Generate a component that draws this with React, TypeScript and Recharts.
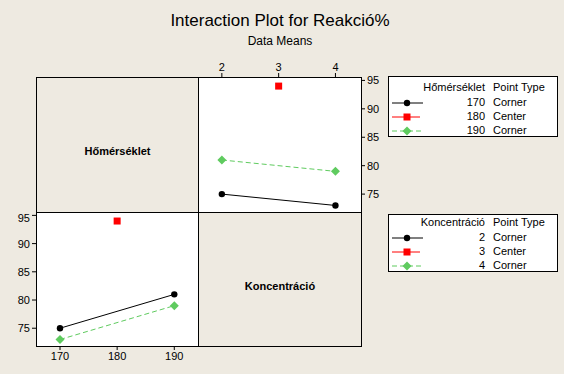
import React from "react";
import { Line, LineChart, XAxis, YAxis } from "recharts";

// szintek
const homersekletLevels = [170, 180, 190];
const koncentracioLevels = [2, 3, 4];
const pointTypes = ["Corner", "Center", "Corner"];

// Reakció% átlagok — felső panel: x = Koncentráció, vonalak = Hőmérséklet
const konX = [2, 4];
const konXCenter = [3];
const mean170 = [75, 73];
const mean180 = [94];
const mean190 = [81, 79];

// alsó panel: x = Hőmérséklet, vonalak = Koncentráció
const homX = [170, 190];
const homXCenter = [180];
const mean2 = [75, 81];
const mean3 = [94];
const mean4 = [73, 79];

const yTicks = [75, 80, 85, 90, 95];
const yDomain: [number, number] = [71.85, 95.6];

const BG = "#EEEAE1";
const GREEN = "#5FCB5F";
const FONT = "'Liberation Sans', Arial, sans-serif";

const toRows = (xs: number[], ys: number[]) => xs.map((x, i) => ({ x, y: ys[i] }));

const circleDot = (p: any) => (
  <circle key={p.key ?? `c${p.index}`} cx={p.cx} cy={p.cy} r={3.2} fill="#000" />
);
const squareDot = (p: any) => (
  <rect key={p.key ?? `s${p.index}`} x={p.cx - 3.5} y={p.cy - 3.5} width={7} height={7} fill="#ff0000" />
);
const diamondDot = (p: any) => (
  <path
    key={p.key ?? `d${p.index}`}
    d={`M${p.cx},${p.cy - 4.5}L${p.cx + 4.5},${p.cy}L${p.cx},${p.cy + 4.5}L${p.cx - 4.5},${p.cy}Z`}
    fill={GREEN}
  />
);

const tickStyle = { fontSize: 11, fill: "#000", fontFamily: FONT };

function cell(left: number, top: number, w: number, h: number, bg: string, extra?: React.CSSProperties) {
  return {
    position: "absolute" as const,
    left,
    top,
    width: w,
    height: h,
    background: bg,
    border: "1px solid #000",
    boxSizing: "border-box" as const,
    ...extra,
  };
}

function LegendSample({ kind }: { kind: number }) {
  return (
    <svg width={34} height={10} style={{ display: "block" }}>
      {kind === 0 && (
        <>
          <line x1={0} y1={5} x2={31} y2={5} stroke="#000" strokeWidth={1} />
          <circle cx={15} cy={5} r={3.2} fill="#000" />
        </>
      )}
      {kind === 1 && (
        <>
          <line x1={0} y1={5} x2={28} y2={5} stroke="#ff0000" strokeWidth={1} />
          <rect x={11.5} y={1.5} width={7} height={7} fill="#ff0000" />
        </>
      )}
      {kind === 2 && (
        <>
          <line x1={0} y1={5} x2={31} y2={5} stroke={GREEN} strokeWidth={1} strokeDasharray="5 3" />
          <path d="M15,0.5L19.5,5L15,9.5L10.5,5Z" fill={GREEN} />
        </>
      )}
    </svg>
  );
}

function LegendBox({
  top,
  height,
  headerY,
  title,
  levels,
}: {
  top: number;
  height: number;
  headerY: number;
  title: string;
  levels: number[];
}) {
  // headerY: a fejléc szövegének közepe a doboz tetejétől
  const ht = headerY - 7;
  return (
    <div style={cell(388, top, 170, height, "#fff", { fontFamily: FONT, fontSize: 11 })}>
      <div style={{ position: "absolute", right: 72, top: ht, whiteSpace: "nowrap" }}>{title}</div>
      <div style={{ position: "absolute", left: 104, top: ht }}>Point Type</div>
      {levels.map((lv, i) => (
        <React.Fragment key={lv}>
          <div style={{ position: "absolute", left: 3, top: ht + 15 + i * 14 + 2 }}>
            <LegendSample kind={i} />
          </div>
          <div style={{ position: "absolute", right: 72, top: ht + 15 + i * 14 }}>{lv}</div>
          <div style={{ position: "absolute", left: 104, top: ht + 15 + i * 14 }}>{pointTypes[i]}</div>
        </React.Fragment>
      ))}
    </div>
  );
}

const labelStyle: React.CSSProperties = {
  position: "absolute",
  inset: 0,
  paddingTop: 12,
  boxSizing: "border-box",
  display: "flex",
  alignItems: "center",
  justifyContent: "center",
  fontWeight: "bold",
  fontSize: 11,
};

export default function App() {
  return (
    <div
      style={{
        position: "absolute",
        left: 0,
        top: 0,
        width: 564,
        height: 374,
        background: BG,
        fontFamily: FONT,
        overflow: "hidden",
      }}
    >
      <div style={{ position: "absolute", left: 0, width: 564, top: 11, textAlign: "center", fontSize: 17 }}>
        <span style={{ position: "relative", left: -2 }}>Interaction Plot for Reakció%</span>
      </div>
      <div style={{ position: "absolute", left: 0, width: 564, top: 34, textAlign: "center", fontSize: 12 }}>
        <span style={{ position: "relative", left: -2 }}>Data Means</span>
      </div>

      {/* mátrix cellák */}
      <div style={cell(36, 77, 163, 136, BG)}>
        <div style={labelStyle}>Hőmérséklet</div>
      </div>
      <div style={cell(198, 77, 164, 136, "#fff")} />
      <div style={cell(36, 212, 163, 135, "#fff")} />
      <div style={cell(198, 212, 164, 135, BG)}>
        <div style={labelStyle}>Koncentráció</div>
      </div>

      {/* felső jobb panel */}
      <div style={{ position: "absolute", left: 198, top: 57 }}>
        <LineChart width={163 + 30} height={135 + 20} margin={{ top: 0, right: 0, bottom: 0, left: 0 }}>
          <XAxis
            xAxisId="k"
            type="number"
            dataKey="x"
            orientation="top"
            height={20}
            domain={[1.58, 4.45]}
            ticks={koncentracioLevels}
            axisLine={false}
            tickSize={4}
            tickLine={{ stroke: "#000" }}
            tick={tickStyle}
            allowDataOverflow
          />
          <YAxis
            yAxisId="k"
            type="number"
            orientation="right"
            width={30}
            domain={yDomain}
            ticks={yTicks}
            axisLine={false}
            tickSize={4}
            tickLine={{ stroke: "#000" }}
            tick={tickStyle}
            allowDataOverflow
          />
          <Line xAxisId="k" yAxisId="k" data={toRows(konX, mean170)} dataKey="y" stroke="#000" strokeWidth={1} dot={circleDot} activeDot={false} isAnimationActive={false} />
          <Line xAxisId="k" yAxisId="k" data={toRows(konXCenter, mean180)} dataKey="y" stroke="#ff0000" strokeWidth={1} dot={squareDot} activeDot={false} isAnimationActive={false} />
          <Line xAxisId="k" yAxisId="k" data={toRows(konX, mean190)} dataKey="y" stroke={GREEN} strokeWidth={1} strokeDasharray="5 3" dot={diamondDot} activeDot={false} isAnimationActive={false} />
        </LineChart>
      </div>

      {/* alsó bal panel */}
      <div style={{ position: "absolute", left: 6, top: 212 }}>
        <LineChart width={30 + 162} height={134 + 20} margin={{ top: 0, right: 0, bottom: 0, left: 0 }}>
          <XAxis
            xAxisId="h"
            type="number"
            dataKey="x"
            orientation="bottom"
            height={20}
            domain={[165.8, 194.15]}
            ticks={homersekletLevels}
            axisLine={false}
            tickSize={4}
            tickLine={{ stroke: "#000" }}
            tick={tickStyle}
            allowDataOverflow
          />
          <YAxis
            yAxisId="h"
            type="number"
            orientation="left"
            width={30}
            domain={yDomain}
            ticks={yTicks}
            axisLine={false}
            tickSize={4}
            tickLine={{ stroke: "#000" }}
            tick={tickStyle}
            allowDataOverflow
          />
          <Line xAxisId="h" yAxisId="h" data={toRows(homX, mean2)} dataKey="y" stroke="#000" strokeWidth={1} dot={circleDot} activeDot={false} isAnimationActive={false} />
          <Line xAxisId="h" yAxisId="h" data={toRows(homXCenter, mean3)} dataKey="y" stroke="#ff0000" strokeWidth={1} dot={squareDot} activeDot={false} isAnimationActive={false} />
          <Line xAxisId="h" yAxisId="h" data={toRows(homX, mean4)} dataKey="y" stroke={GREEN} strokeWidth={1} strokeDasharray="5 3" dot={diamondDot} activeDot={false} isAnimationActive={false} />
        </LineChart>
      </div>

      <LegendBox top={76} height={61} headerY={11} title="Hőmérséklet" levels={homersekletLevels} />
      <LegendBox top={214} height={58} headerY={8} title="Koncentráció" levels={koncentracioLevels} />
    </div>
  );
}
